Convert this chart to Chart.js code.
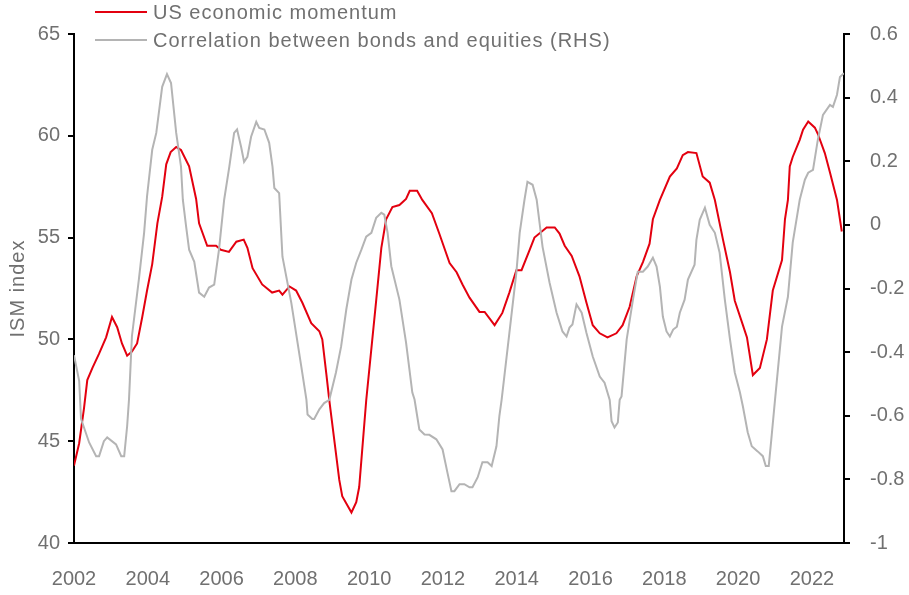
<!DOCTYPE html>
<html>
<head>
<meta charset="utf-8">
<script src="https://cdn.jsdelivr.net/npm/chart.js@4.4.0/dist/chart.umd.min.js"></script>
<style>
  html, body { margin: 0; padding: 0; background: #fff; }
  #wrap { width: 909px; height: 595px; position: relative; }
</style>
</head>
<body>
<div id="wrap"><canvas id="chart" width="909" height="595"></canvas></div>
<script>
// US economic momentum (ISM index, left axis)
const ismYears = [2002.00, 2002.14, 2002.27, 2002.36, 2002.50, 2002.68, 2002.87, 2003.03, 2003.17, 2003.30,
    2003.44, 2003.57, 2003.71, 2003.85, 2003.98, 2004.12, 2004.26, 2004.39, 2004.50, 2004.62,
    2004.77, 2004.90, 2005.12, 2005.31, 2005.39, 2005.61, 2005.85, 2005.98, 2006.20, 2006.40,
    2006.60, 2006.70, 2006.84, 2007.10, 2007.37, 2007.56, 2007.65, 2007.84, 2008.02, 2008.19,
    2008.43, 2008.65, 2008.73, 2008.84, 2008.92, 2009.19, 2009.27, 2009.52, 2009.65, 2009.73,
    2009.92, 2010.19, 2010.33, 2010.46, 2010.63, 2010.82, 2011.00, 2011.10, 2011.30, 2011.44,
    2011.70, 2011.90, 2012.18, 2012.37, 2012.53, 2012.72, 2012.99, 2013.13, 2013.40, 2013.61,
    2013.80, 2013.99, 2014.13, 2014.35, 2014.48, 2014.81, 2015.03, 2015.16, 2015.30, 2015.49,
    2015.70, 2015.89, 2016.06, 2016.25, 2016.46, 2016.70, 2016.87, 2017.06, 2017.25, 2017.42,
    2017.60, 2017.69, 2017.88, 2018.15, 2018.34, 2018.50, 2018.64, 2018.87, 2019.04, 2019.23,
    2019.37, 2019.59, 2019.78, 2019.91, 2020.13, 2020.24, 2020.40, 2020.59, 2020.78, 2020.94,
    2021.19, 2021.27, 2021.35, 2021.40, 2021.48, 2021.67, 2021.76, 2021.90, 2022.08, 2022.16,
    2022.35, 2022.49, 2022.68, 2022.81];
const ismValues = [43.8, 44.9, 46.6, 48.0, 48.6, 49.3, 50.1, 51.1, 50.6, 49.8,
    49.2, 49.4, 49.8, 51.1, 52.4, 53.7, 55.7, 57.0, 58.6, 59.2,
    59.45, 59.3, 58.5, 56.9, 55.7, 54.6, 54.6, 54.4, 54.3, 54.8,
    54.9, 54.5, 53.5, 52.7, 52.3, 52.4, 52.2, 52.6, 52.4, 51.8,
    50.8, 50.4, 50.0, 48.3, 47.0, 43.1, 42.3, 41.5, 42.0, 42.75,
    47.0, 51.9, 54.5, 55.9, 56.5, 56.6, 56.9, 57.3, 57.3, 56.85,
    56.2, 55.2, 53.75, 53.3, 52.7, 52.05, 51.35, 51.35, 50.7, 51.3,
    52.3, 53.4, 53.4, 54.4, 55.0, 55.5, 55.5, 55.2, 54.6, 54.1,
    53.1, 51.8, 50.7, 50.3, 50.1, 50.3, 50.7, 51.6, 53.1, 53.8,
    54.7, 55.9, 56.85, 58.0, 58.4, 59.05, 59.2, 59.15, 58.0, 57.7,
    56.85, 54.9, 53.3, 51.9, 50.7, 50.1, 48.25, 48.6, 50.0, 52.4,
    53.9, 55.9, 56.85, 58.5, 58.96, 59.8, 60.3, 60.7, 60.4, 60.1,
    59.15, 58.2, 56.85, 55.3];

// correlation between bonds and equities (right axis)
const corrYears = [2002.00, 2002.14, 2002.19, 2002.41, 2002.60, 2002.68, 2002.81, 2002.90, 2003.14, 2003.28,
    2003.36, 2003.44, 2003.49, 2003.57, 2003.76, 2003.90, 2003.98, 2004.12, 2004.23, 2004.39,
    2004.52, 2004.63, 2004.77, 2004.90, 2004.95, 2005.04, 2005.12, 2005.26, 2005.39, 2005.53,
    2005.66, 2005.80, 2005.93, 2006.07, 2006.21, 2006.34, 2006.42, 2006.53, 2006.61, 2006.70,
    2006.80, 2006.94, 2007.02, 2007.16, 2007.29, 2007.38, 2007.43, 2007.56, 2007.65, 2007.89,
    2008.16, 2008.30, 2008.33, 2008.46, 2008.51, 2008.65, 2008.78, 2008.92, 2009.10, 2009.24,
    2009.38, 2009.52, 2009.65, 2009.79, 2009.92, 2010.06, 2010.19, 2010.33, 2010.41, 2010.50,
    2010.60, 2010.82, 2011.00, 2011.17, 2011.23, 2011.36, 2011.50, 2011.63, 2011.82, 2011.99,
    2012.12, 2012.23, 2012.31, 2012.45, 2012.58, 2012.72, 2012.80, 2012.94, 2013.07, 2013.21,
    2013.32, 2013.45, 2013.53, 2013.59, 2013.80, 2013.99, 2014.08, 2014.21, 2014.29, 2014.43,
    2014.54, 2014.70, 2014.89, 2015.08, 2015.24, 2015.35, 2015.43, 2015.51, 2015.62, 2015.76,
    2015.89, 2016.06, 2016.25, 2016.38, 2016.52, 2016.57, 2016.65, 2016.74, 2016.79, 2016.84,
    2016.98, 2017.15, 2017.28, 2017.42, 2017.55, 2017.69, 2017.79, 2017.88, 2017.96, 2018.06,
    2018.15, 2018.24, 2018.34, 2018.42, 2018.55, 2018.64, 2018.82, 2018.87, 2018.96, 2019.10,
    2019.23, 2019.37, 2019.50, 2019.64, 2019.78, 2019.91, 2020.05, 2020.13, 2020.26, 2020.37,
    2020.53, 2020.67, 2020.75, 2020.83, 2020.90, 2021.00, 2021.19, 2021.35, 2021.48, 2021.67,
    2021.81, 2021.90, 2022.03, 2022.16, 2022.30, 2022.49, 2022.57, 2022.68, 2022.76, 2022.87];
const corrValues = [-0.41, -0.49, -0.61, -0.684, -0.727, -0.727, -0.68, -0.668, -0.69, -0.727,
    -0.727, -0.633, -0.55, -0.35, -0.17, -0.025, 0.09, 0.236, 0.289, 0.434,
    0.474, 0.446, 0.289, 0.183, 0.079, -0.006, -0.078, -0.116, -0.213, -0.226,
    -0.197, -0.188, -0.078, 0.079, 0.183, 0.289, 0.30, 0.245, 0.198, 0.214,
    0.277, 0.324, 0.305, 0.30, 0.258, 0.183, 0.116, 0.10, -0.10, -0.245,
    -0.445, -0.55, -0.596, -0.61, -0.61, -0.58, -0.56, -0.55, -0.464, -0.382,
    -0.266, -0.172, -0.119, -0.078, -0.037, -0.025, 0.022, 0.038, 0.032, -0.025,
    -0.13, -0.235, -0.37, -0.527, -0.549, -0.643, -0.659, -0.66, -0.674, -0.706,
    -0.778, -0.837, -0.837, -0.815, -0.815, -0.825, -0.825, -0.794, -0.746, -0.746,
    -0.758, -0.696, -0.60, -0.55, -0.34, -0.15, -0.025, 0.079, 0.135, 0.126,
    0.079, -0.069, -0.182, -0.276, -0.335, -0.351, -0.323, -0.313, -0.25, -0.276,
    -0.34, -0.414, -0.477, -0.496, -0.55, -0.617, -0.637, -0.621, -0.55, -0.539,
    -0.36, -0.235, -0.147, -0.147, -0.131, -0.103, -0.131, -0.194, -0.288, -0.335,
    -0.351, -0.329, -0.32, -0.276, -0.235, -0.172, -0.125, -0.047, 0.016, 0.054,
    0.0, -0.025, -0.088, -0.235, -0.36, -0.464, -0.527, -0.571, -0.652, -0.696,
    -0.712, -0.727, -0.758, -0.758, -0.674, -0.55, -0.32, -0.226, -0.056, 0.079,
    0.142, 0.164, 0.173, 0.267, 0.346, 0.377, 0.371, 0.409, 0.465, 0.477];

const xTicks = [2002, 2004, 2006, 2008, 2010, 2012, 2014, 2016, 2018, 2020, 2022];
const seriesNames = ['US economic momentum', 'Correlation between bonds and equities (RHS)'];
const leftTitle = 'ISM index';

const RED = '#e3000f';
const GREY = '#b4b4b4';
const TEXT = '#707070';
const FONT = '"Liberation Sans", Arial, sans-serif';

function toPoints(xs, ys) {
    return xs.map(function (x, i) { return { x: x, y: ys[i] }; });
}

// legend (two stacked rows) and the rotated left axis title, letter-spaced like the original
const chartTexts = {
    id: 'chartTexts',
    afterDraw(chart) {
        const ctx = chart.ctx;
        ctx.save();
        ctx.font = '20px ' + FONT;
        ctx.letterSpacing = '1px';
        ctx.textBaseline = 'middle';
        chart.data.datasets.forEach(function (ds, i) {
            const y = 12 + i * 28;
            ctx.strokeStyle = ds.borderColor;
            ctx.lineWidth = 2;
            ctx.beginPath();
            ctx.moveTo(95, y);
            ctx.lineTo(147, y);
            ctx.stroke();
            ctx.fillStyle = TEXT;
            ctx.fillText(ds.label, 153, y + 1);
        });
        const area = chart.chartArea;
        ctx.translate(18, (area.top + area.bottom) / 2);
        ctx.rotate(-Math.PI / 2);
        ctx.textAlign = 'center';
        ctx.fillText(leftTitle, 0, 0);
        ctx.restore();
    }
};

Chart.defaults.font.family = FONT;
Chart.defaults.color = TEXT;

const ctx = document.getElementById('chart').getContext('2d');
const myChart = new Chart(ctx, {
    type: 'line',
    data: {
        datasets: [{
            label: seriesNames[0],
            data: toPoints(ismYears, ismValues),
            yAxisID: 'y',
            borderColor: RED,
            borderWidth: 2,
            pointRadius: 0,
            tension: 0,
            order: 2
        }, {
            label: seriesNames[1],
            data: toPoints(corrYears, corrValues),
            yAxisID: 'y2',
            borderColor: GREY,
            borderWidth: 2,
            pointRadius: 0,
            tension: 0,
            order: 1
        }]
    },
    options: {
        responsive: false,
        animation: false,
        layout: { padding: { top: 34, left: 0, right: 0, bottom: 0 } },
        plugins: {
            legend: { display: false },
            tooltip: { enabled: false }
        },
        scales: {
            x: {
                type: 'linear',
                min: 2002,
                max: 2022.87,
                afterBuildTicks: function (scale) {
                    scale.ticks = xTicks.map(function (v) { return { value: v }; });
                },
                afterFit: function (scale) { scale.height = 52; },
                grid: { display: true, drawOnChartArea: false, drawTicks: false },
                border: { color: '#000', width: 2 },
                ticks: {
                    font: { size: 20 },
                    padding: 24,
                    maxRotation: 0,
                    autoSkip: false,
                    callback: function (v) { return String(v); }
                }
            },
            y: {
                position: 'left',
                min: 40,
                max: 65,
                afterFit: function (scale) { scale.width = 74; },
                grid: { drawOnChartArea: false, color: '#000', lineWidth: 2, tickLength: 6 },
                border: { color: '#000', width: 2 },
                ticks: { stepSize: 5, font: { size: 20 }, padding: 8 }
            },
            y2: {
                position: 'right',
                min: -1,
                max: 0.6,
                afterFit: function (scale) { scale.width = 65; },
                grid: { drawOnChartArea: false, color: '#000', lineWidth: 2, tickLength: 6 },
                border: { color: '#000', width: 2 },
                ticks: {
                    stepSize: 0.2,
                    font: { size: 20 },
                    padding: 20,
                    callback: function (v) { return String(Number(v.toFixed(1))); }
                }
            }
        }
    },
    plugins: [chartTexts]
});
</script>
</body>
</html>
